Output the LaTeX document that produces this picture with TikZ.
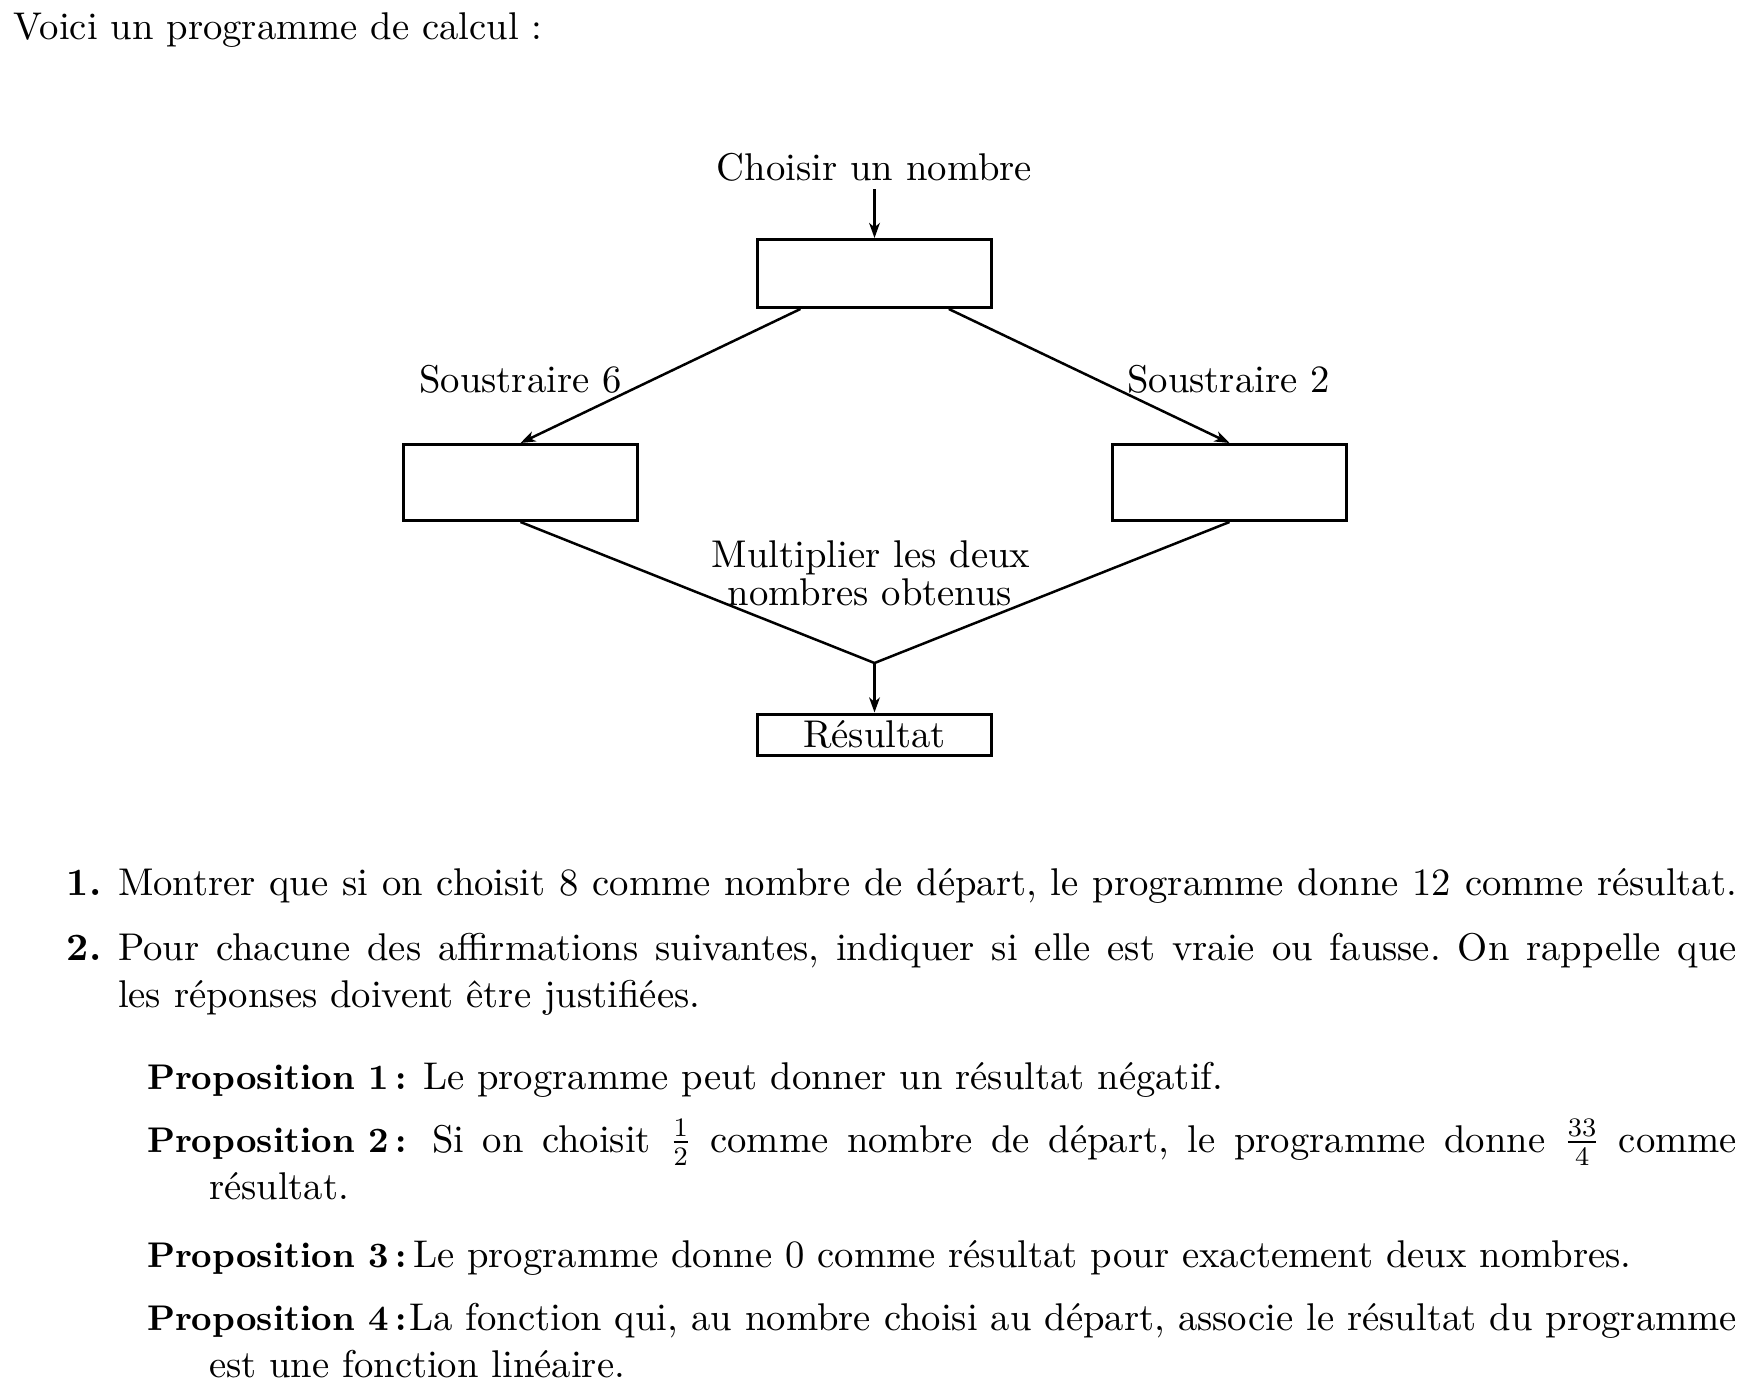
\documentclass[tikz,border=0pt]{standalone}
\usepackage{fontspec}
\setmainfont{lmroman10-regular.otf}[BoldFont=lmroman10-bold.otf, ItalicFont=lmroman10-italic.otf]
\usetikzlibrary{arrows.meta}
\newcommand{\mybodyfont}{\fontsize{11.6}{14}\selectfont\frenchspacing}
\begin{document}
\begin{tikzpicture}[x=0.3pt,y=-0.3pt,
  txt/.style={inner sep=0pt, outer sep=0pt, font=\mybodyfont, anchor=base west},
  ctxt/.style={inner sep=0pt, outer sep=0pt, font=\mybodyfont, anchor=base},
  lbl/.style={inner sep=0pt, outer sep=0pt, font=\fontsize{10.7}{13}\selectfont\bfseries, anchor=base west},
  num/.style={inner sep=0pt, outer sep=0pt, font=\mybodyfont\bfseries, anchor=base west},
  boite/.style={draw, line width=0.9pt, inner sep=0pt, minimum width=70.2pt},
  fl/.style={line width=0.75pt, -{Stealth[length=4.5pt,width=3.2pt,inset=1.3pt]}},
  ln/.style={line width=0.75pt}]
\useasboundingbox (0,0) rectangle (1751,1396);
\node[txt] (intro) at (14,40) {Voici un programme de calcul :};

% diagram
\node[ctxt] (choisir) at (874.5,180) {Choisir un nombre};
\coordinate (cstart) at (874.5,189);
\node[boite, minimum height=20.4pt] (top) at (874.5,273.5) {};
\node[boite, minimum height=22.8pt] (left) at (520.5,482.5) {};
\node[boite, minimum height=22.8pt] (right) at (1229.5,482.5) {};
\node[boite, minimum height=12.3pt, font=\mybodyfont] (res) at (874.5,734.5) {Résultat};
\coordinate (j) at (874.5,663);
\draw[fl] (cstart) -- (top.north);
\draw[fl] (top) -- (left.north);
\draw[fl] (top) -- (right.north);
\draw[ln] (left.south) -- (j) -- (right.south);
\draw[fl] (j) -- (res.north);
\node[ctxt] (s6) at (520.5,392) {Soustraire 6};
\node[ctxt] (s2) at (1228.5,392) {Soustraire 2};
\node[ctxt] (m1) at (871,567) {Multiplier les deux};
\node[ctxt] (m2) at (870,605) {nombres obtenus};

% questions
\node[num] (n1) at (67,895) {1.};
\node[txt] (l1) at (118,895) {\makebox[485.7pt][s]{Montrer que si on choisit 8 comme nombre de départ, le programme donne 12 comme résultat.}};
\node[num] (n2) at (67,960) {2.};
\node[txt] (l2) at (118,960) {\makebox[485.7pt][s]{Pour chacune des affirmations suivantes, indiquer si elle est vraie ou fausse. On rappelle que}};
\node[txt] (l3) at (118,1007) {les réponses doivent être justifiées.};

\node[lbl] (p1) at (147,1089) {Proposition 1\,:};
\node[txt] (t1) at (423,1089) {Le programme peut donner un résultat négatif.};
\node[lbl] (p2) at (147,1152) {Proposition 2\,:};
\node[txt] (t2) at (432,1152) {\makebox[391.5pt][s]{Si on choisit $\frac{1}{2}$ comme nombre de départ, le programme donne $\frac{33}{4}$ comme}};
\node[txt] (t2b) at (209,1199) {résultat.};
\node[lbl] (p3) at (147,1267) {Proposition 3\,:};
\node[txt] (t3) at (413,1267) {Le programme donne 0 comme résultat pour exactement deux nombres.};
\node[lbl] (p4) at (147,1330) {Proposition 4\,:};
\node[txt] (t4) at (409,1330) {\makebox[398.4pt][s]{La fonction qui, au nombre choisi au départ, associe le résultat du programme}};
\node[txt] (t4b) at (209,1377) {est une fonction linéaire.};
\end{tikzpicture}
\end{document}
